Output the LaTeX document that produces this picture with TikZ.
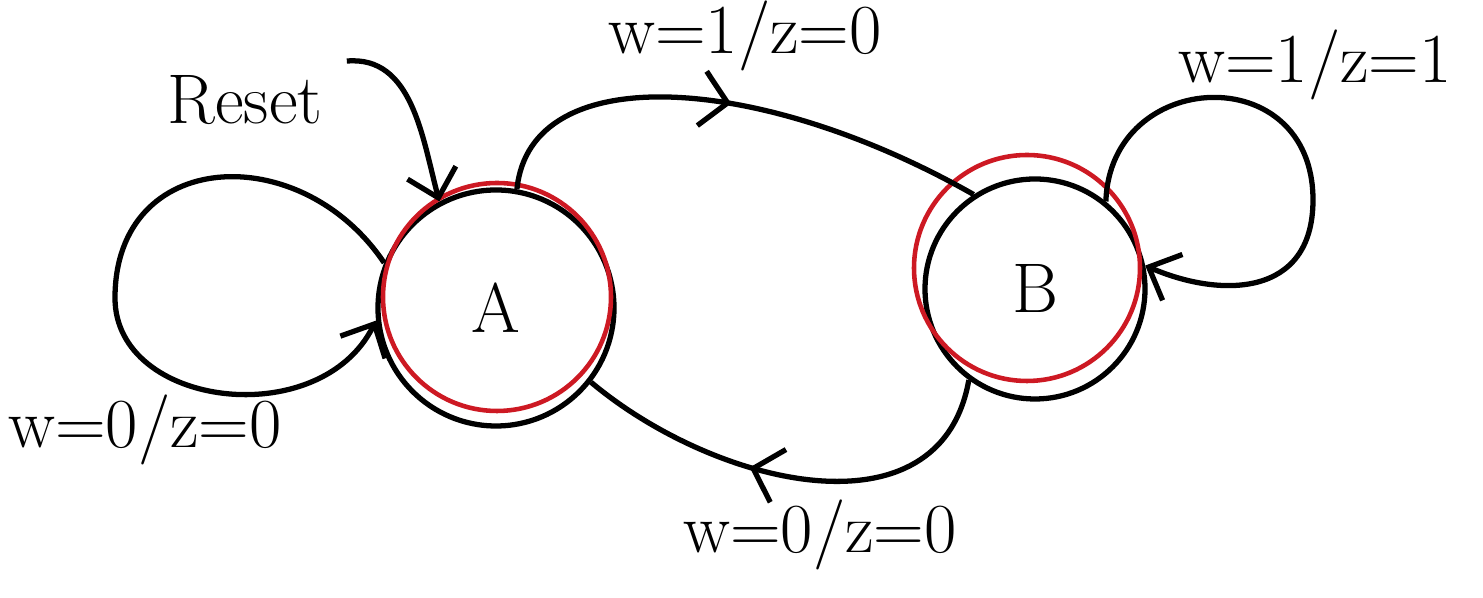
\documentclass[tikz,border=0pt]{standalone}
\usepackage{tikz}
\usetikzlibrary{positioning, arrows.meta, decorations.markings}

\definecolor{ringred}{RGB}{205,25,35}

\begin{document}
\begin{tikzpicture}[
        line width=1.5pt,
        every node/.style={font=\fontsize{20}{24}\selectfont},
        state/.style={draw, circle, inner sep=0pt},
        redring/.style={draw=ringred, circle, line width=1.3pt, inner sep=0pt},
        tip/.style={-{Straight Barb[length=2.6mm, width=5mm]}},
        midtip/.style={postaction={decorate}, decoration={markings,
            mark=at position #1 with {\arrow{Straight Barb[length=2.6mm, width=5.5mm]}}}},
    ]
        \useasboundingbox (0,0) rectangle (14.83,5.98);

        \node[state, minimum size=2.36cm] at (4.96,2.90) (A) {A};
        \node[state, minimum size=2.2cm] at (10.35,3.09) (B) {B};
        \node[redring, minimum size=2.28cm] at (4.97,3.01) (Ar) {};
        \node[redring, minimum size=2.26cm] at (10.27,3.30) (Br) {};

        % reset
        \node at (2.45,4.98) (reset) {Reset};
        \coordinate[right=0.1cm of reset.north east] (rs);
        \draw[tip] (rs) to[out=5, in=105] (A.118);

        % A loop
        \draw[tip] (A.158) .. controls (3.0,4.6) and (1.15,4.5) .. (1.15,3.0)
            .. controls (1.15,1.9) and (3.2,1.65) .. (A.186);
        \node at (1.45,1.68) (lA) {w=0/z=0};

        % A to B
        \draw[midtip=0.5] (A.80) .. controls (5.3,5.4) and (7.6,5.25) .. (B.123);
        \node at (7.45,5.62) (lAB) {w=1/z=0};

        % B loop
        \draw[tip] (B.51) .. controls (11.1,5.3) and (13.13,5.4) .. (13.13,3.98)
            .. controls (13.13,3.0) and (12.2,3.0) .. (B.12);
        \node at (13.15,5.33) (lB) {w=1/z=1};

        % B to A
        \draw[midtip=0.6] (B.234) to[out=-100, in=-40, looseness=1.1] (A.322);
        \node at (8.2,0.63) (lBA) {w=0/z=0};
    \end{tikzpicture}
\end{document}
